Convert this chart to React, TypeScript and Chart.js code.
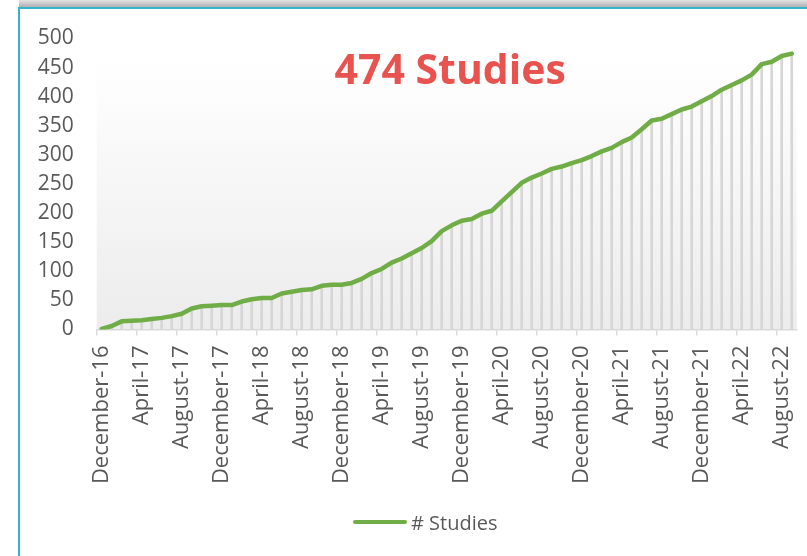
import React, { useEffect, useRef } from 'react';
import { Chart, registerables } from 'chart.js';

Chart.register(...registerables);

const categories = [
  'December-16',
  'January-17', 'February-17', 'March-17', 'April-17', 'May-17', 'June-17', 'July-17', 'August-17', 'September-17', 'October-17', 'November-17', 'December-17',
  'January-18', 'February-18', 'March-18', 'April-18', 'May-18', 'June-18', 'July-18', 'August-18', 'September-18', 'October-18', 'November-18', 'December-18',
  'January-19', 'February-19', 'March-19', 'April-19', 'May-19', 'June-19', 'July-19', 'August-19', 'September-19', 'October-19', 'November-19', 'December-19',
  'January-20', 'February-20', 'March-20', 'April-20', 'May-20', 'June-20', 'July-20', 'August-20', 'September-20', 'October-20', 'November-20', 'December-20',
  'January-21', 'February-21', 'March-21', 'April-21', 'May-21', 'June-21', 'July-21', 'August-21', 'September-21', 'October-21', 'November-21', 'December-21',
  'January-22', 'February-22', 'March-22', 'April-22', 'May-22', 'June-22', 'July-22', 'August-22', 'September-22',
];

const studies = [
  1, 6, 14, 15, 16, 18, 20, 23, 27, 36,
  40, 41, 42, 42, 48, 52, 54, 54, 62, 65,
  68, 69, 75, 77, 77, 80, 87, 97, 104, 115,
  122, 131, 140, 152, 169, 179, 187, 190, 199, 204,
  220, 236, 252, 261, 268, 276, 280, 286, 291, 298,
  306, 312, 322, 330, 344, 359, 362, 370, 378, 383,
  392, 401, 412, 420, 428, 438, 456, 460, 470, 474,
];

const seriesName = '# Studies';
const headline = '474 Studies';
const tickEvery = 4;
const yMin = 0;
const yMax = 500;
const yStep = 50;

const FONT = "'Open Sans', 'DejaVu Sans', sans-serif";
const TEXT = '#595959';
const GREEN = '#70ad47';

const bgPlugin = {
  id: 'plotBg',
  beforeDraw(chart: any) {
    const { ctx, chartArea } = chart;
    if (!chartArea) return;
    const { left, top, width, height, bottom } = chartArea;
    ctx.save();
    const g = ctx.createLinearGradient(0, top, 0, bottom);
    g.addColorStop(0, '#ffffff');
    g.addColorStop(0.12, '#fefefe');
    g.addColorStop(1, '#ececec');
    ctx.fillStyle = g;
    ctx.fillRect(left, top, width, height);
    ctx.restore();
  },
};

const headlinePlugin = {
  id: 'headline',
  afterDatasetsDraw(chart: any) {
    const { ctx, chartArea } = chart;
    ctx.save();
    ctx.font = `bold 41px ${FONT}`;
    ctx.fillStyle = '#e8534f';
    ctx.textAlign = 'center';
    ctx.textBaseline = 'alphabetic';
    ctx.fillText(headline, chartArea.left + 353.5, chartArea.top + 45);
    ctx.restore();
  },
};

export default function App() {
  const ref = useRef<HTMLCanvasElement | null>(null);

  useEffect(() => {
    if (!ref.current) return;
    const chart = new Chart(ref.current, {
      type: 'bar',
      data: {
        labels: categories,
        datasets: [
          {
            type: 'line',
            label: seriesName,
            data: studies,
            borderColor: GREEN,
            backgroundColor: GREEN,
            borderWidth: 4.5,
            borderCapStyle: 'round',
            borderJoinStyle: 'round',
            pointRadius: 0,
            tension: 0,
            fill: false,
          } as any,
          {
            type: 'bar',
            label: 'drop',
            data: studies,
            backgroundColor: '#d6d6d6',
            barThickness: 2,
          } as any,
        ],
      },
      options: {
        animation: false,
        responsive: false,
        maintainAspectRatio: false,
        layout: { padding: { left: 20, right: 10.3, top: 38.5, bottom: 54.5 } },
        plugins: {
          legend: { display: false },
          tooltip: { enabled: false },
        },
        scales: {
          x: {
            grid: {
              offset: true,
              drawOnChartArea: false,
              drawTicks: true,
              tickLength: 6,
              lineWidth: 1.5,
              color: (c: any) => (c.index % tickEvery === 0 ? '#d9d9d9' : 'rgba(0,0,0,0)'),
            },
            border: { display: true, color: '#d9d9d9', width: 1.5 },
            ticks: {
              autoSkip: false,
              maxRotation: 90,
              minRotation: 90,
              padding: 10,
              color: TEXT,
              font: { family: FONT, size: 22 },
              callback: (_v: any, i: number) => (i % tickEvery === 0 ? categories[i] : ''),
            },
            afterFit: (s: any) => {
              s.height = 172;
              s.paddingLeft = 0;
              s.paddingRight = 0;
            },
          },
          y: {
            min: yMin,
            max: yMax,
            ticks: { stepSize: yStep, padding: 23, color: TEXT, font: { family: FONT, size: 21 } },
            grid: { display: false, drawTicks: false },
            border: { display: false },
            afterFit: (s: any) => {
              s.width = 76.7;
              s.paddingTop = 0;
              s.paddingBottom = 0;
            },
          },
        },
      } as any,
      plugins: [bgPlugin, headlinePlugin],
    });
    return () => chart.destroy();
  }, []);

  return (
    <div style={{ position: 'fixed', left: 0, top: 0, width: 807, height: 556, background: '#fff', overflow: 'hidden' }}>
      <div style={{ position: 'absolute', left: 19, top: 0, width: 800, height: 8, background: 'linear-gradient(to bottom, #e4e4e4, #a9a9a9)' }} />
      <div style={{ position: 'absolute', left: 18, top: 7, width: 800, height: 560, borderLeft: '2px solid #35b5cd', borderTop: '2px solid #35b5cd', boxSizing: 'border-box' }} />
      <canvas ref={ref} width={807} height={556} style={{ position: 'absolute', left: 0, top: 0, width: 807, height: 556 }} />
      <div style={{ position: 'absolute', left: 353, top: 508, height: 28, display: 'flex', alignItems: 'center', fontFamily: FONT, fontSize: 20, color: TEXT, whiteSpace: 'nowrap' }}>
        <span style={{ display: 'inline-block', width: 54, height: 4, borderRadius: 2, background: GREEN, marginRight: 4 }} />
        <span>{seriesName}</span>
      </div>
    </div>
  );
}
